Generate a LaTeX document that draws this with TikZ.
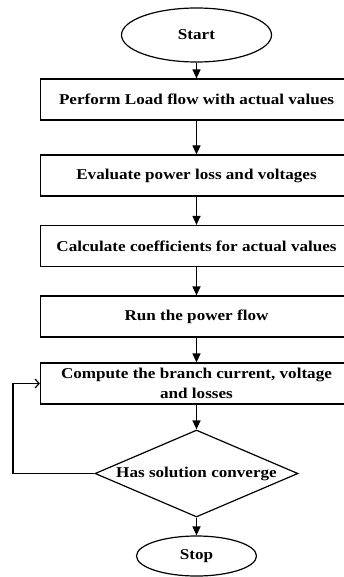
\documentclass[tikz,border=0pt]{standalone}
\usepackage{fontspec}
\setmainfont{Liberation Serif}[FakeStretch=1.14]
\usetikzlibrary{arrows.meta,shapes.geometric}

\begin{document}
\begin{tikzpicture}[x=1pt,y=-1pt,line width=1.2pt,>={Triangle[length=9pt,width=8pt]},
  every node/.style={font=\fontsize{15}{20}\selectfont\bfseries,inner sep=0pt},
  process/.style={draw,rectangle,minimum width=312pt,minimum height=41pt,align=center},
  terminal/.style={draw,ellipse},
  decision/.style={draw,diamond,shape aspect=2.3,minimum width=203pt,minimum height=87pt}]
\useasboundingbox (0,0) rectangle (343,577);
\def\Xc{196.5}
% ---------- terminals ----------
\node[terminal,minimum width=150pt,minimum height=54pt] (start) at (\Xc,35) {Start};
\node[terminal,minimum width=120pt,minimum height=40pt] (stop) at (\Xc,556) {Stop};
% ---------- process boxes ----------
\foreach \name/\y/\txt in {load/99.5/{Perform Load flow with actual values},
    loss/175.5/{Evaluate power loss and voltages},
    coef/246/{Calculate coefficients for actual values},
    flow/316.5/{Run the power flow},
    branch/383.5/{Compute the branch current, voltage\\and losses}}{
  \node[process] (\name) at (\Xc,\y) {\txt};
}
\node[decision] (conv) at (\Xc,473.5) {Has solution converge};
% ---------- main flow ----------
\foreach \a/\b in {start/load,load/loss,loss/coef,coef/flow,flow/branch,branch/conv,conv/stop}{
  \draw[->] (\a) -- (\b);
}
% ---------- loop back when not converged ----------
\coordinate (back) at (13,473.5);
\draw[-{Straight Barb[length=4pt,width=9pt]}] (conv.west) -- (back) |- (branch.west);
\end{tikzpicture}
\end{document}
